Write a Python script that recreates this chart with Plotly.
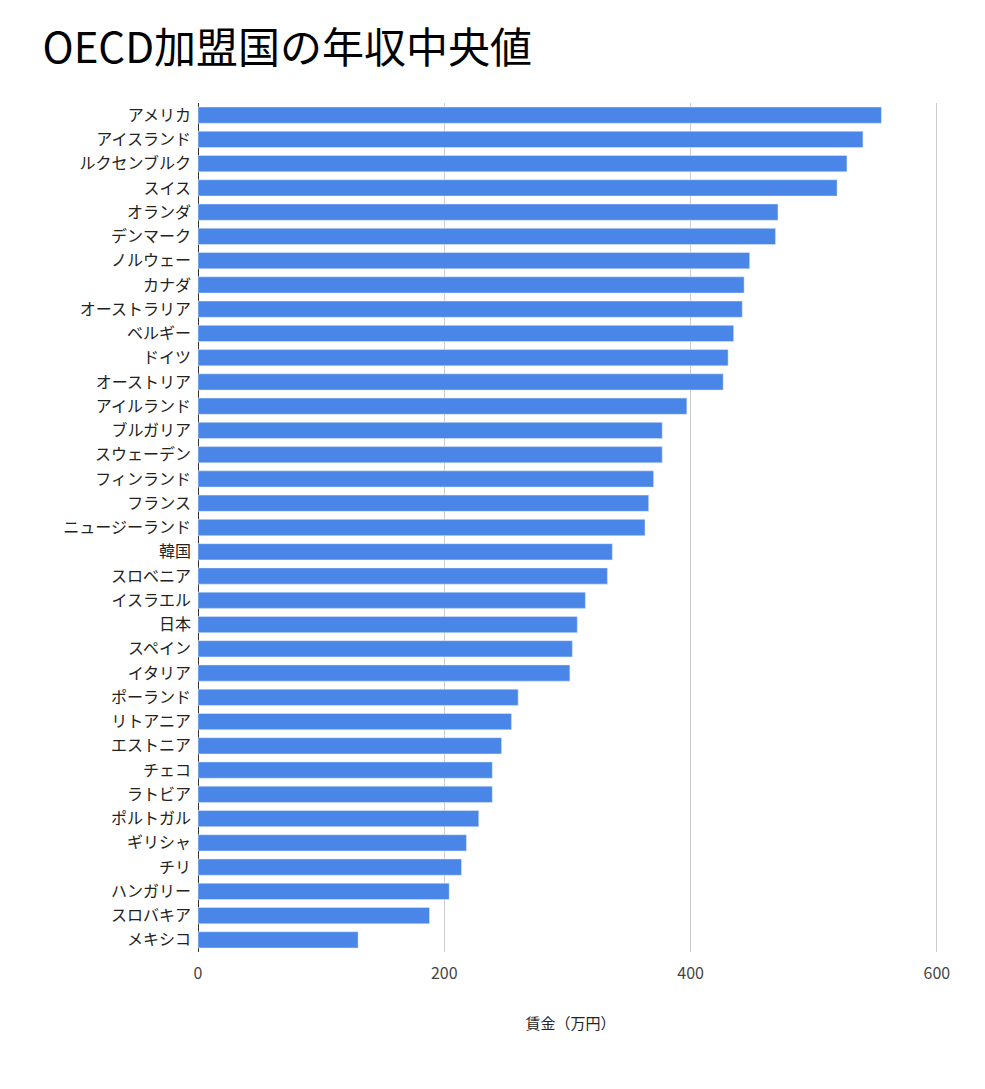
import plotly.graph_objects as go

countries = ["アメリカ","アイスランド","ルクセンブルク","スイス","オランダ","デンマーク","ノルウェー","カナダ","オーストラリア","ベルギー","ドイツ","オーストリア","アイルランド","ブルガリア","スウェーデン","フィンランド","フランス","ニュージーランド","韓国","スロベニア","イスラエル","日本","スペイン","イタリア","ポーランド","リトアニア","エストニア","チェコ","ラトビア","ポルトガル","ギリシャ","チリ","ハンガリー","スロバキア","メキシコ"]
wages = [555,540,527,519,471,469,448,443.5,442,435,430.5,426.5,397,377,377,370,366,363,336.5,332.5,314.6,308,304,302,260,254.6,246.5,239,239,228,218,214,204,188,130]

font = "Noto Sans CJK JP"
fig = go.Figure(go.Bar(x=wages, y=countries, orientation="h", marker_color="#4a86e8"))
fig.update_layout(
    width=985, height=1089, plot_bgcolor="white", paper_bgcolor="white",
    margin=dict(l=190, r=50, t=95, b=145),
    bargap=0.33,
    title=dict(text="OECD加盟国の年収中央値", x=0.035, xanchor="left", y=0.963, yanchor="middle",
               font=dict(family=font, size=42, color="black")),
    font=dict(family=font, color="#222"),
)
fig.update_yaxes(autorange="reversed", tickfont=dict(size=16, color="#222"), ticks="",
                 ticklabelstandoff=6, automargin=False)
fig.update_xaxes(range=[0, 605], tickvals=[0,200,400,600], showgrid=True, gridcolor="#cccccc",
                 zeroline=True, zerolinecolor="#333", zerolinewidth=1, automargin=False,
                 tickfont=dict(size=16, color="#444"), ticklabelstandoff=10,
                 title=dict(text="賃金（万円）", font=dict(size=15, color="#222"), standoff=35))
fig.write_html("out.html")
